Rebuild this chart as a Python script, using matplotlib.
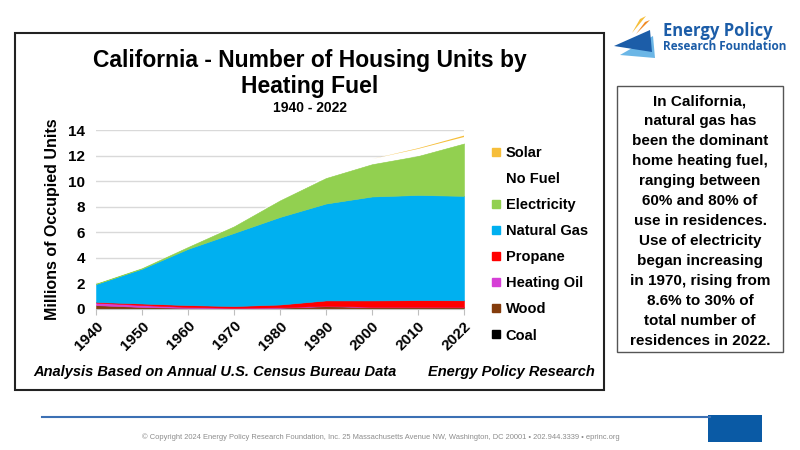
import matplotlib
matplotlib.use("Agg")
import matplotlib.pyplot as plt
from matplotlib.patches import Rectangle, Polygon
from matplotlib.lines import Line2D

plt.rcParams['font.family'] = ['Liberation Sans', 'DejaVu Sans']

years = ['1940', '1950', '1960', '1970', '1980', '1990', '2000', '2010', '2022']
coal = [0.02, 0.01, 0.005, 0.0, 0.0, 0.0, 0.0, 0.0, 0.0]
wood = [0.28, 0.15, 0.08, 0.05, 0.10, 0.22, 0.15, 0.15, 0.15]
heating_oil = [0.20, 0.15, 0.07, 0.04, 0.03, 0.03, 0.02, 0.02, 0.01]
propane = [0.05, 0.12, 0.15, 0.14, 0.22, 0.42, 0.50, 0.52, 0.52]
natural_gas = [1.40, 2.72, 4.40, 5.72, 6.85, 7.58, 8.13, 8.23, 8.17]
electricity = [0.03, 0.05, 0.15, 0.52, 1.30, 2.00, 2.53, 3.05, 4.10]
no_fuel = [0.01, 0.02, 0.03, 0.05, 0.08, 0.10, 0.40, 0.55, 0.50]
solar = [0.0, 0.0, 0.0, 0.0, 0.0, 0.0, 0.0, 0.05, 0.11]

series_names = ['Coal', 'Wood', 'Heating Oil', 'Propane', 'Natural Gas',
                'Electricity', 'No Fuel', 'Solar']
series_vals = [coal, wood, heating_oil, propane, natural_gas,
               electricity, no_fuel, solar]
colors = ['#000000', '#843C0C', '#D63FD6', '#FF0000', '#00B0F0',
          '#92D050', '#FFFFFF', '#F6BE3A']

fig = plt.figure(figsize=(8, 4.5), dpi=100)
W, H = 800, 450

def fx(px):
    return px / W

def fy(py):
    return 1 - py / H

# chart frame
fig.patches.append(Rectangle((fx(15), fy(390)), fx(604) - fx(15), fy(33) - fy(390),
                             transform=fig.transFigure, fill=False,
                             edgecolor='#222222', linewidth=1.5))

ax = fig.add_axes([fx(96), fy(309), fx(464) - fx(96), fy(130) - fy(309)])
x = list(range(len(years)))
polys = ax.stackplot(x, *series_vals, colors=colors, zorder=2)
for p, c, name in zip(polys, colors, series_names):
    if name in ('Solar', 'No Fuel'):
        p.set_edgecolor('none')
        p.set_linewidth(0)
    else:
        p.set_edgecolor(c)
        p.set_linewidth(0.4)
ax.set_xlim(0, len(years) - 1)
ax.set_ylim(0, 14)
ax.set_yticks([0, 2, 4, 6, 8, 10, 12, 14])
ax.set_xticks(x)
ax.set_xticklabels(years, rotation=45, ha='right', rotation_mode='anchor')
ax.grid(axis='y', color='#D9D9D9', linewidth=1, zorder=0)
ax.set_axisbelow(True)
for s in ['top', 'right', 'left']:
    ax.spines[s].set_visible(False)
ax.spines['bottom'].set_color('#BFBFBF')
ax.spines['bottom'].set_zorder(3)
ax.tick_params(axis='y', length=0, labelsize=11, pad=8)
ax.tick_params(axis='x', length=4, color='#BFBFBF', labelsize=11, pad=3)
for lab in ax.get_xticklabels() + ax.get_yticklabels():
    lab.set_fontweight('bold')
ax.set_ylabel('Millions of Occupied Units', fontsize=11.5, fontweight='bold',
              labelpad=6)
ax.patch.set_alpha(0)

# legend
order = ['Solar', 'No Fuel', 'Electricity', 'Natural Gas', 'Propane',
         'Heating Oil', 'Wood', 'Coal']
handles = []
for name in order:
    c = colors[series_names.index(name)]
    handles.append(Line2D([], [], marker='s', linestyle='none', markersize=6,
                          markerfacecolor=c, markeredgecolor=c))
leg = fig.legend(handles, order, loc='upper left',
                 bbox_to_anchor=(fx(484), fy(140)), frameon=False,
                 prop={'weight': 'bold', 'size': 10.5}, handlelength=0.8,
                 handletextpad=0.3, labelspacing=0.83, borderaxespad=0)

# titles
fig.text(fx(310), fy(60), 'California - Number of Housing Units by',
         ha='center', va='center', fontsize=16.5, fontweight='bold')
fig.text(fx(310), fy(87), 'Heating Fuel', ha='center', va='center',
         fontsize=16.5, fontweight='bold')
fig.text(fx(310), fy(108), '1940 - 2022', ha='center', va='center',
         fontsize=10, fontweight='bold')

fig.text(fx(33), fy(372), 'Analysis Based on Annual U.S. Census Bureau Data',
         ha='left', va='center', fontsize=10.5, fontweight='bold',
         fontstyle='italic')
fig.text(fx(595), fy(372), 'Energy Policy Research', ha='right', va='center',
         fontsize=10.5, fontweight='bold', fontstyle='italic')

# right text box
fig.patches.append(Rectangle((fx(617), fy(352)), fx(783) - fx(617), fy(86) - fy(352),
                             transform=fig.transFigure, fill=False,
                             edgecolor='#555555', linewidth=1.0))
box_lines = ['In California,', 'natural gas has', 'been the dominant',
             'home heating fuel,', 'ranging between', '60% and 80% of',
             'use in residences.', 'Use of electricity', 'began increasing',
             'in 1970, rising from', '8.6% to 30% of', 'total number of',
             'residences in 2022.']
for i, line in enumerate(box_lines):
    fig.text(fx(700), fy(101 + i * 20), line, ha='center', va='center',
             fontsize=11, fontweight='bold')

# logo
fig.patches.append(Polygon([(fx(640), fy(19)), (fx(646), fy(16)), (fx(632), fy(33))],
                           closed=True, transform=fig.transFigure,
                           facecolor='#F6BE3A', edgecolor='none'))
fig.patches.append(Polygon([(fx(645), fy(22)), (fx(650), fy(20)), (fx(636), fy(34))],
                           closed=True, transform=fig.transFigure,
                           facecolor='#F08A24', edgecolor='none'))
fig.patches.append(Polygon([(fx(620), fy(55)), (fx(655), fy(58)), (fx(653), fy(36))],
                           closed=True, transform=fig.transFigure,
                           facecolor='#6BB6E6', edgecolor='none'))
fig.patches.append(Polygon([(fx(614), fy(46)), (fx(650), fy(30)), (fx(652), fy(52))],
                           closed=True, transform=fig.transFigure,
                           facecolor='#1C5DA8', edgecolor='none'))
fig.text(fx(663), fy(31), 'Energy Policy', ha='left', va='center',
         fontsize=12, fontweight='bold', color='#1C5DA8',
         family=['Open Sans', 'DejaVu Sans'])
fig.text(fx(663), fy(46), 'Research Foundation', ha='left', va='center',
         fontsize=8.5, fontweight='bold', color='#1C5DA8',
         family=['Open Sans', 'DejaVu Sans'])

# footer
fig.add_artist(Line2D([fx(42), fx(710)], [fy(417), fy(417)],
                      transform=fig.transFigure, color='#3C70B4', linewidth=1.5))
fig.patches.append(Rectangle((fx(708), fy(442)), fx(762) - fx(708), fy(415) - fy(442),
                             transform=fig.transFigure, facecolor='#0A5AA5',
                             edgecolor='none'))
fig.text(fx(381), fy(437),
         '\u00a9 Copyright 2024 Energy Policy Research Foundation, Inc. 25 Massachusetts '
         'Avenue NW, Washington, DC 20001 \u2022 202.944.3339 \u2022 eprinc.org',
         ha='center', va='center', fontsize=5.45, color='#8C8C8C')

fig.savefig('out.png', dpi=100)
